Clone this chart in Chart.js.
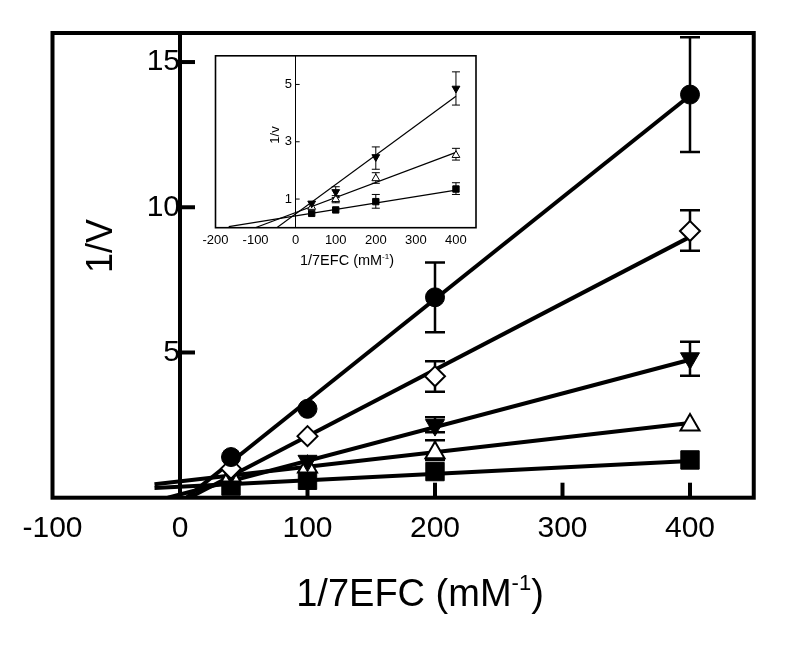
<!DOCTYPE html>
<html>
<head>
<meta charset="utf-8">
<script src="https://cdn.jsdelivr.net/npm/chart.js@4.4.1/dist/chart.umd.min.js"></script>
<style>
  body { margin: 0; background: #fff; }
  #wrap { position: relative; width: 800px; height: 650px; }
  #inset { position: absolute; left: 190px; top: 45px; }
</style>
</head>
<body>
<div id="wrap">
  <canvas id="main" width="800" height="650"></canvas>
  <canvas id="inset" width="300" height="235"></canvas>
</div>
<script>
// ---- main plot data ----
const xVals = [40, 100, 200, 400];
const xTicks = [-100, 0, 100, 200, 300, 400];
const yTicks = [5, 10, 15];

const circleY = [1.4, 3.06, 6.9, 13.88];
const circleLo = [null, null, 5.7, 11.9];
const circleHi = [null, null, 8.1, 15.85];
const diamondY = [1.0, 2.12, 4.18, 9.18];
const diamondLo = [null, null, 3.65, 8.5];
const diamondHi = [null, null, 4.7, 9.9];
const downY = [0.85, 1.27, 2.5, 4.8];
const downLo = [null, null, 2.25, 4.2];
const downHi = [null, null, 2.77, 5.37];
const upY = [0.75, 1.06, 1.55, 2.5];
const upLo = [null, null, 1.3, null];
const upHi = [null, null, 1.98, null];
const squareY = [0.4, 0.6, 0.9, 1.3];

// fitted lines (circle, diamond, down, up, square), drawn from start to x=400
const fitStartX = [4.9, 7.3, -9.5, -20, -20];
const fitStartY = [0, 0, 0, 0.46, 0.33];
const fitEndX = [400, 400, 400, 400, 400];
const fitEndY = [13.85, 8.98, 4.75, 2.57, 1.26];

// ---- inset data ----
const inXVals = [40, 100, 200, 400];
const inXTicks = [-200, -100, 0, 100, 200, 300, 400];
const inYTicks = [1, 3, 5];
const inDownY = [0.85, 1.25, 2.47, 4.86];
const inDownLo = [null, 1.05, 2.04, 4.28];
const inDownHi = [null, 1.43, 2.82, 5.44];
const inUpY = [0.72, 0.99, 1.72, 2.53];
const inUpLo = [null, 0.87, 1.55, 2.36];
const inUpHi = [null, 1.12, 1.92, 2.77];
const inSquareY = [0.5, 0.62, 0.91, 1.35];
const inSquareLo = [null, null, 0.68, 1.16];
const inSquareHi = [null, null, 1.16, 1.57];
// fitted lines (down, up, square)
const inFitStartX = [-47, -101, -167];
const inFitStartY = [0, 0, 0.04];
const inFitEndX = [400, 400, 400];
const inFitEndY = [4.59, 2.63, 1.31];

Chart.defaults.font.family = '"Liberation Sans", Arial, sans-serif';
Chart.defaults.color = '#000';

const FONT = '"Liberation Sans", Arial, sans-serif';

function pts(xs, ys) {
    return xs.map((x, i) => ({ x: x, y: ys[i] }));
}

// error bars, drawn under the markers
const errorBars = {
    id: 'errorBars',
    beforeDatasetsDraw(chart, args, o) {
        const ctx = chart.ctx, xs = chart.scales.x, ys = chart.scales.y;
        ctx.save();
        ctx.strokeStyle = '#000';
        ctx.lineWidth = o.width;
        chart.data.datasets.forEach(ds => {
            if (!ds.errLo) return;
            ds.data.forEach((p, i) => {
                if (ds.errLo[i] == null) return;
                const px = xs.getPixelForValue(p.x);
                const y1 = ys.getPixelForValue(ds.errLo[i]);
                const y2 = ys.getPixelForValue(ds.errHi[i]);
                ctx.beginPath();
                ctx.moveTo(px, y1); ctx.lineTo(px, y2);
                ctx.moveTo(px - o.cap, y1); ctx.lineTo(px + o.cap, y1);
                ctx.moveTo(px - o.cap, y2); ctx.lineTo(px + o.cap, y2);
                ctx.stroke();
            });
        });
        ctx.restore();
    }
};

// box frame, inward tick marks and axis titles
const frame = {
    id: 'frame',
    beforeDraw(chart, args, o) {
        if (!o.fill) return;
        const a = chart.chartArea;
        chart.ctx.save();
        chart.ctx.fillStyle = '#fff';
        chart.ctx.fillRect(a.left, a.top, a.width, a.height);
        chart.ctx.restore();
    },
    afterDraw(chart, args, o) {
        const ctx = chart.ctx, a = chart.chartArea;
        const x = chart.scales.x, y = chart.scales.y;
        const x0 = x.getPixelForValue(0);
        ctx.save();
        ctx.strokeStyle = '#000';
        ctx.lineWidth = o.tickWidth;
        if (o.xTickMarks) {
            x.ticks.forEach(t => {
                if (t.value <= 0) return;
                const px = x.getPixelForValue(t.value);
                ctx.beginPath();
                ctx.moveTo(px, a.bottom);
                ctx.lineTo(px, a.bottom - o.tickLen);
                ctx.stroke();
            });
        }
        y.ticks.forEach(t => {
            const py = y.getPixelForValue(t.value);
            ctx.beginPath();
            ctx.moveTo(x0, py);
            ctx.lineTo(x0 + o.tickLen, py);
            ctx.stroke();
        });
        ctx.lineWidth = o.frameWidth;
        ctx.strokeRect(a.left, a.top, a.width, a.height);

        // x title with superscript
        ctx.fillStyle = '#000';
        ctx.textBaseline = 'alphabetic';
        ctx.textAlign = 'left';
        const big = o.titleSize + 'px ' + FONT, small = o.supSize + 'px ' + FONT;
        ctx.font = big;
        const w1 = ctx.measureText(o.xTitle[0]).width;
        const w3 = ctx.measureText(o.xTitle[2]).width;
        ctx.font = small;
        const w2 = ctx.measureText(o.xTitle[1]).width;
        let cx = o.xTitlePos[0] - (w1 + w2 + w3) / 2;
        const by = o.xTitlePos[1];
        ctx.font = big;
        ctx.fillText(o.xTitle[0], cx, by);
        cx += w1;
        ctx.font = small;
        ctx.fillText(o.xTitle[1], cx, by - o.supRise);
        cx += w2;
        ctx.font = big;
        ctx.fillText(o.xTitle[2], cx, by);

        // y title, rotated
        ctx.translate(o.yTitlePos[0], o.yTitlePos[1]);
        ctx.rotate(-Math.PI / 2);
        ctx.textAlign = 'center';
        ctx.textBaseline = 'middle';
        ctx.font = o.yTitleSize + 'px ' + FONT;
        ctx.fillText(o.yTitle, 0, 0);
        ctx.restore();
    }
};

function markerSet(data, style, radius, filled, rot, lo, hi, bw) {
    return {
        type: 'scatter',
        data: data,
        showLine: false,
        pointStyle: style,
        pointRotation: rot,
        pointRadius: radius,
        pointBackgroundColor: filled ? '#000' : '#fff',
        pointBorderColor: '#000',
        pointBorderWidth: bw,
        errLo: lo,
        errHi: hi,
        order: 1
    };
}

function fitSet(x1, y1, x2, y2, w) {
    return {
        type: 'line',
        data: [{ x: x1, y: y1 }, { x: x2, y: y2 }],
        borderColor: '#000',
        borderWidth: w,
        pointRadius: 0,
        fill: false,
        order: 2
    };
}

// ---- main chart ----
const mainSets = [];
for (let i = 0; i < fitStartX.length; i++) {
    mainSets.push(fitSet(fitStartX[i], fitStartY[i], fitEndX[i], fitEndY[i], 4));
}
mainSets.push(markerSet(pts(xVals, circleY), 'circle', 9.5, true, 0, circleLo, circleHi, 1));
mainSets.push(markerSet(pts(xVals, diamondY), 'rectRot', 10, false, 0, diamondLo, diamondHi, 2));
mainSets.push(markerSet(pts(xVals, downY), 'triangle', 11, true, 180, downLo, downHi, 1));
mainSets.push(markerSet(pts(xVals, upY), 'triangle', 11, false, 0, upLo, upHi, 2));
mainSets.push(markerSet(pts(xVals, squareY), 'rect', 13, true, 0, null, null, 1));

new Chart(document.getElementById('main'), {
    type: 'scatter',
    data: { datasets: mainSets },
    plugins: [errorBars, frame],
    options: {
        responsive: false,
        animation: false,
        events: [],
        layout: { padding: { left: 52.5, right: 46.25, top: 33, bottom: 0 } },
        scales: {
            x: {
                type: 'linear', min: -100, max: 450,
                afterBuildTicks: s => { s.ticks = xTicks.map(v => ({ value: v })); },
                afterFit: s => { s.height = 152.3; },
                grid: { display: false, drawTicks: false },
                border: { display: false },
                ticks: { font: { size: 30 }, padding: 13, maxRotation: 0, autoSkip: false }
            },
            y: {
                type: 'linear', min: 0, max: 16, position: { x: 0 },
                afterBuildTicks: s => { s.ticks = yTicks.map(v => ({ value: v })); },
                grid: { display: false, drawTicks: false },
                border: { display: true, color: '#000', width: 4 },
                ticks: { font: { size: 30 }, padding: 4 }
            }
        },
        plugins: {
            legend: { display: false },
            tooltip: { enabled: false },
            errorBars: { width: 2.5, cap: 10 },
            frame: {
                fill: false, frameWidth: 4, tickWidth: 4, tickLen: 15, xTickMarks: true,
                xTitle: ['1/7EFC (mM', '-1', ')'], titleSize: 38, supSize: 22, supRise: 16,
                xTitlePos: [420, 606],
                yTitle: '1/V', yTitleSize: 36, yTitlePos: [102.5, 246]
            }
        }
    }
});

// ---- inset chart ----
const insetSets = [];
for (let i = 0; i < inFitStartX.length; i++) {
    insetSets.push(fitSet(inFitStartX[i], inFitStartY[i], inFitEndX[i], inFitEndY[i], 1.2));
}
insetSets.push(markerSet(pts(inXVals, inDownY), 'triangle', 4.5, true, 180, inDownLo, inDownHi, 1));
insetSets.push(markerSet(pts(inXVals, inUpY), 'triangle', 4.5, false, 0, inUpLo, inUpHi, 1));
insetSets.push(markerSet(pts(inXVals, inSquareY), 'rect', 4.5, true, 0, inSquareLo, inSquareHi, 1));

new Chart(document.getElementById('inset'), {
    type: 'scatter',
    data: { datasets: insetSets },
    plugins: [errorBars, frame],
    options: {
        responsive: false,
        animation: false,
        events: [],
        layout: { padding: { left: 25.5, right: 14, top: 9, bottom: 0 } },
        scales: {
            x: {
                type: 'linear', min: -200, max: 450,
                afterBuildTicks: s => { s.ticks = inXTicks.map(v => ({ value: v })); },
                afterFit: s => { s.height = 52.3; },
                grid: { display: false, drawTicks: false },
                border: { display: false },
                ticks: { font: { size: 13 }, padding: 5, maxRotation: 0, autoSkip: false }
            },
            y: {
                type: 'linear', min: 0, max: 6, position: { x: 0 },
                afterBuildTicks: s => { s.ticks = inYTicks.map(v => ({ value: v })); },
                grid: { display: false, drawTicks: false },
                border: { display: true, color: '#000', width: 1 },
                // positioned axis ignores padding, so pad the label with a space
                ticks: { font: { size: 13 }, callback: v => v + ' ' }
            }
        },
        plugins: {
            legend: { display: false },
            tooltip: { enabled: false },
            errorBars: { width: 1, cap: 4 },
            frame: {
                fill: true, frameWidth: 1.6, tickWidth: 1, tickLen: 4, xTickMarks: false,
                xTitle: ['1/7EFC (mM', '-1', ')'], titleSize: 14.5, supSize: 8, supRise: 6,
                xTitlePos: [157, 220],
                yTitle: '1/v', yTitleSize: 13, yTitlePos: [85, 90]
            }
        }
    }
});
</script>
</body>
</html>
